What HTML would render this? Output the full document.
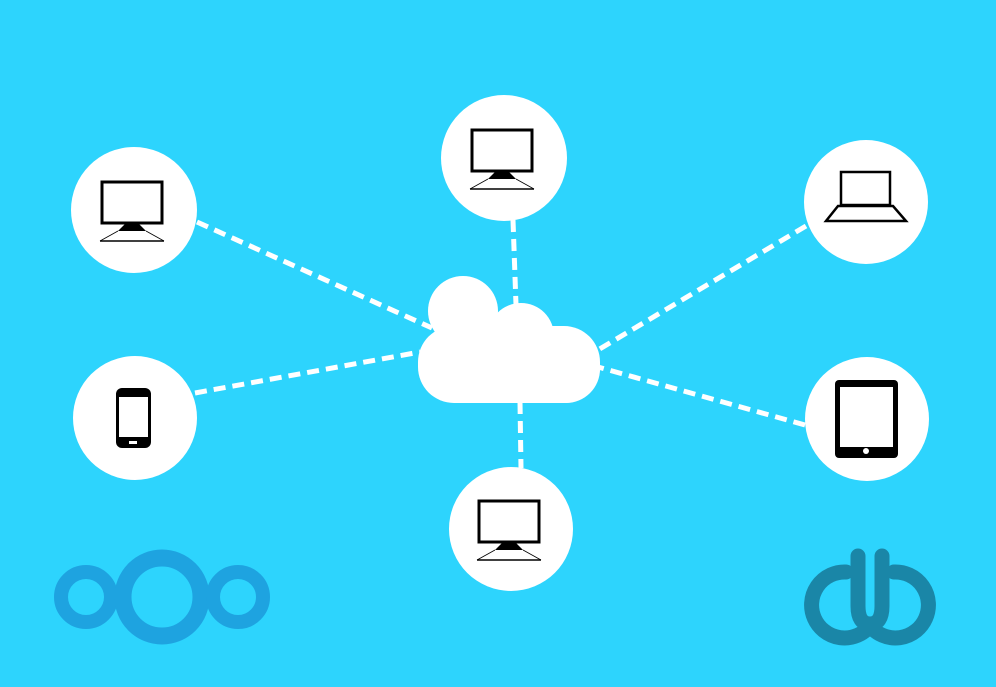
<!DOCTYPE html>
<html><head><style>html,body{margin:0;padding:0;background:#2dd4fd;}svg{display:block}</style></head>
<body>
<svg width="996" height="687" viewBox="0 0 996 687" xmlns="http://www.w3.org/2000/svg">
<rect width="996" height="687" fill="#2dd4fd"/>
<g stroke="#fff" stroke-width="5" stroke-dasharray="12 7" fill="none">
<line x1="197" y1="222" x2="432" y2="328"/>
<line x1="513" y1="220" x2="516" y2="305"/>
<line x1="806" y1="226" x2="593" y2="353"/>
<line x1="195" y1="393" x2="420" y2="352"/>
<line x1="805" y1="425" x2="598" y2="367"/>
<line x1="520" y1="402" x2="521" y2="468"/>
</g>
<g fill="#fff">
<circle cx="463" cy="311" r="35"/>
<circle cx="521" cy="336" r="33"/>
<circle cx="566" cy="369" r="34"/>
<rect x="418" y="326" width="182" height="77" rx="36"/>
<circle cx="134" cy="210" r="63"/>
<circle cx="504" cy="158" r="63"/>
<circle cx="866" cy="202" r="62"/>
<circle cx="135" cy="418" r="62"/>
<circle cx="867" cy="419" r="62"/>
<circle cx="511" cy="529" r="62"/>
</g>
<defs>
<g id="mon">
<rect x="-30" y="-29" width="60" height="41" fill="none" stroke="#000" stroke-width="3"/>
<polygon points="-6,12 6,12 14,20 -14,20" fill="#000"/>
<line x1="-32" y1="30" x2="32" y2="30" stroke="#000" stroke-width="1.5"/>
<line x1="-14" y1="20" x2="-32" y2="30" stroke="#000" stroke-width="0.8"/>
<line x1="14" y1="20" x2="32" y2="30" stroke="#000" stroke-width="0.8"/>
</g>
</defs>
<use href="#mon" x="132" y="211"/>
<use href="#mon" x="502" y="159"/>
<use href="#mon" x="509" y="530"/>
<!-- laptop -->
<rect x="841" y="172" width="49" height="33" fill="none" stroke="#000" stroke-width="2.5"/>
<polygon points="838,206 893,206 906,221 826,221" fill="none" stroke="#000" stroke-width="2.5"/>
<!-- phone -->
<rect x="116" y="388" width="35" height="60" rx="6" fill="#000"/>
<rect x="119" y="397" width="29" height="40" fill="#fff"/>
<rect x="129" y="441" width="8" height="3" fill="#fff"/>
<!-- tablet -->
<rect x="835" y="380" width="63" height="78" rx="4" fill="#000"/>
<rect x="840" y="387" width="53" height="60" fill="#fff"/>
<circle cx="866" cy="451" r="3" fill="#fff"/>
<!-- nextcloud -->
<g fill="none" stroke="#1ea3e0">
<circle cx="86" cy="597" r="25" stroke-width="14"/>
<circle cx="162" cy="597" r="39" stroke-width="17"/>
<circle cx="238" cy="597" r="25" stroke-width="14"/>
</g>
<!-- right logo -->
<g fill="none" stroke="#1a86a7" stroke-width="15" stroke-linecap="round">
<path d="M846,572 A33,33 0 1 0 870,626"/>
<path d="M894,572 A33,33 0 1 1 870,626"/>
<path d="M858,556 L858,606 Q858,624 870,624 Q882,624 882,606 L882,556"/>
</g>
</svg>
</body></html>
